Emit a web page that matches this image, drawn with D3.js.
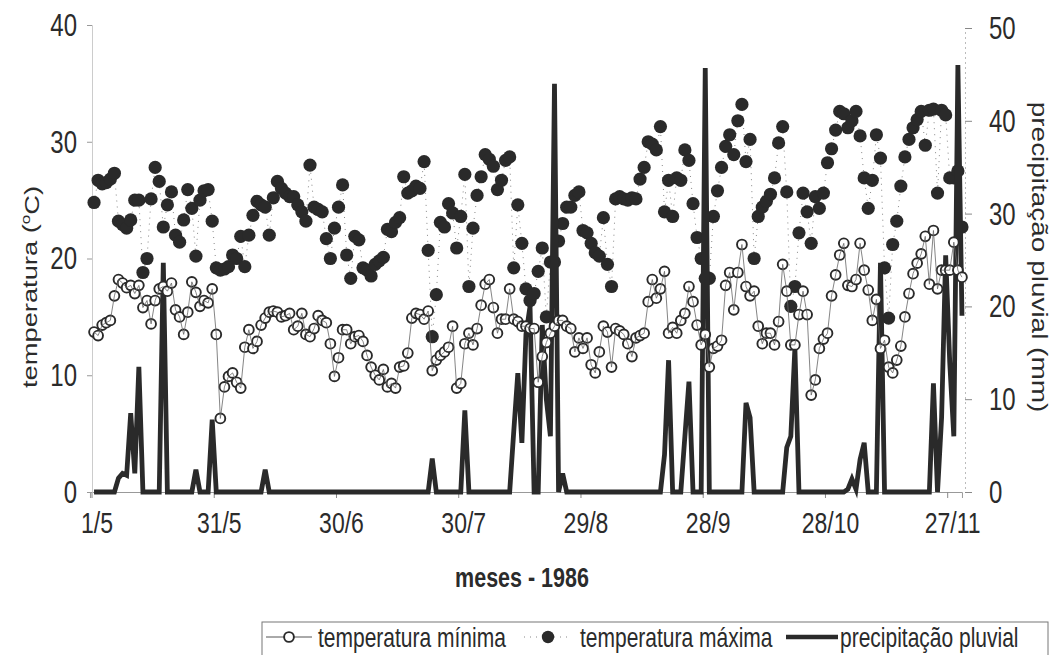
<!DOCTYPE html>
<html>
<head>
<meta charset="utf-8">
<script src="https://cdn.jsdelivr.net/npm/d3@7"></script>
<style>
  html, body { margin: 0; padding: 0; background: #fff; }
  svg text { font-family: "Liberation Sans", Arial, sans-serif; fill: #2b2b2b; }
</style>
</head>
<body>
<svg id="chart" width="1056" height="655"></svg>
<script>
// daily categories 1/5/1986 .. 30/11/1986
const days = d3.timeDay.range(new Date(1986, 4, 1), new Date(1986, 11, 1));
const tickLabels = ["1/5", "31/5", "30/6", "30/7", "29/8", "28/9", "28/10", "27/11"];
const tempTicks = [0, 10, 20, 30, 40];
const rainTicks = [0, 10, 20, 30, 40, 50];

// temperatura minima (C)
const tempMin = [
  13.7, 13.4, 14.3, 14.5, 14.7, 16.8, 18.2, 17.9, 17.5, 17.7,
  17.0, 17.7, 15.8, 16.4, 14.4, 16.4, 17.4, 17.6, 17.2, 17.9,
  15.6, 15.0, 13.5, 15.4, 18.0, 17.1, 15.9, 16.4, 16.2, 17.4,
  13.5, 6.3, 9.0, 9.9, 10.2, 9.4, 8.9, 12.4, 13.9, 12.3,
  12.9, 14.3, 14.9, 15.4, 15.5, 15.4, 15.0, 15.1, 15.3, 13.9,
  14.2, 15.3, 13.5, 13.3, 14.0, 15.1, 14.7, 14.5, 12.7, 9.9,
  11.5, 13.9, 13.9, 12.7, 13.3, 13.4, 12.9, 11.7, 10.7, 10.0,
  9.6, 10.5, 9.0, 9.3, 8.9, 10.7, 10.8, 11.9, 14.9, 15.3,
  15.2, 14.8, 15.5, 10.4, 11.3, 11.7, 12.0, 12.4, 14.2, 8.9,
  9.3, 12.7, 13.6, 12.6, 14.0, 16.0, 17.8, 18.2, 15.8, 13.6,
  14.8, 14.8, 17.4, 14.8, 14.6, 14.2, 14.2, 14.0, 14.0, 9.4,
  11.6, 12.8, 13.6, 14.2, 14.7, 14.7, 14.2, 14.0, 12.0, 13.2,
  12.3, 13.2, 10.9, 10.2, 12.0, 14.2, 13.7, 10.7, 14.0, 13.8,
  13.5, 12.7, 11.6, 13.2, 13.4, 13.6, 16.3, 18.2, 16.6, 17.4,
  18.9, 13.6, 14.1, 13.6, 14.7, 15.3, 17.6, 16.3, 14.3, 12.6,
  13.5, 10.7, 12.3, 12.5, 13.0, 17.7, 18.8, 15.6, 18.8, 21.2,
  17.6, 16.8, 17.2, 14.2, 12.7, 13.6, 13.6, 12.6, 14.6, 19.5,
  17.2, 12.6, 12.6, 15.2, 17.2, 15.2, 8.3, 9.6, 12.3, 13.1,
  13.6, 16.8, 18.6, 20.3, 21.3, 17.7, 17.6, 18.2, 21.3, 19.0,
  17.3, 14.7, 16.5, 12.3, 13.0, 10.7, 10.2, 11.3, 12.5, 15.0,
  17.0, 18.7, 19.6, 20.4, 21.9, 17.8, 22.4, 17.4, 19.0, 19.0,
  19.0, 21.4, 19.0, 18.4
];

// temperatura maxima (C)
const tempMax = [
  24.8, 26.7, 26.4, 26.5, 26.8, 27.3, 23.2, 22.9, 22.6, 23.3,
  25.0, 25.0, 18.8, 20.0, 25.1, 27.8, 26.6, 22.7, 24.6, 25.7,
  22.0, 21.4, 23.3, 25.9, 24.3, 20.2, 25.0, 25.8, 25.9, 23.2,
  19.2, 19.0, 19.1, 19.3, 20.3, 20.0, 21.9, 19.3, 22.0, 23.7,
  24.9, 24.6, 24.4, 22.0, 25.2, 26.6, 26.0, 25.6, 25.3, 25.3,
  24.6, 24.0, 23.2, 28.0, 24.4, 24.2, 24.0, 21.7, 20.0, 22.6,
  24.4, 26.3, 20.3, 18.3, 21.9, 21.6, 19.2, 19.0, 18.5, 19.5,
  19.8, 20.1, 22.5, 22.3, 23.1, 23.5, 27.0, 25.6, 25.8, 26.2,
  26.0, 28.3, 20.7, 13.3, 16.9, 23.1, 22.7, 24.7, 23.9, 20.9,
  23.6, 27.2, 17.6, 22.6, 25.4, 27.0, 28.9, 28.5, 27.9, 25.9,
  26.7, 28.4, 28.7, 19.2, 24.6, 21.3, 17.4, 16.4, 17.0, 18.9,
  20.9, 15.0, 19.7, 19.7, 21.5, 23.0, 24.4, 24.4, 25.4, 25.7,
  22.4, 22.2, 21.3, 20.5, 20.2, 23.5, 19.5, 17.6, 25.1, 25.3,
  25.1, 25.0, 25.2, 25.1, 26.8, 27.8, 30.0, 29.8, 29.3, 31.3,
  24.0, 26.7, 23.6, 26.9, 26.7, 29.3, 28.4, 24.7, 21.8, 20.0,
  18.3, 18.3, 23.6, 25.8, 27.8, 29.6, 30.6, 28.9, 31.8, 33.2,
  28.3, 30.2, 20.0, 23.6, 24.4, 24.9, 25.5, 26.9, 29.9, 31.3,
  25.7, 15.9, 17.6, 22.2, 25.6, 24.0, 21.3, 25.3, 24.3, 25.6,
  28.2, 29.4, 31.0, 32.6, 32.4, 31.2, 31.8, 32.6, 30.5, 26.9,
  24.3, 26.7, 30.6, 28.6, 19.2, 14.9, 21.2, 23.2, 26.2, 28.7,
  30.2, 31.2, 31.9, 32.6, 29.7, 32.7, 32.8, 25.6, 32.7, 32.3,
  26.9, 26.9, 27.5, 22.7
];

// precipitacao pluvial (mm)
const rain = [
  0, 0, 0, 0, 0, 0, 1.5, 2.0, 1.8, 8.5,
  2.0, 13.5, 0, 0, 0, 0, 0, 24.7, 0, 0,
  0, 0, 0, 0, 0, 2.4, 0, 0, 0, 7.8,
  0, 0, 0, 0, 0, 0, 0, 0, 0, 0,
  0, 0, 2.4, 0, 0, 0, 0, 0, 0, 0,
  0, 0, 0, 0, 0, 0, 0, 0, 0, 0,
  0, 0, 0, 0, 0, 0, 0, 0, 0, 0,
  0, 0, 0, 0, 0, 0, 0, 0, 0, 0,
  0, 0, 0, 3.6, 0, 0, 0, 0, 0, 0,
  0, 8.8, 0, 0, 0, 0, 0, 0, 0, 0,
  0, 0, 0, 6.5, 12.8, 5.3, 17.0, 20.0, 0, 0,
  18.0, 10.0, 6.0, 44.0, 0, 2.0, 0, 0, 0, 0,
  0, 0, 0, 0, 0, 0, 0, 0, 0, 0,
  0, 0, 0, 0, 0, 0, 0, 0, 0, 0,
  4.0, 14.2, 0, 0, 0, 6.0, 11.9, 0, 0, 0,
  45.7, 0, 0, 0, 0, 0, 0, 0, 0, 0,
  9.6, 8.0, 0, 0, 0, 0, 0, 0, 0, 0,
  4.8, 6.0, 15.5, 0, 0, 0, 0, 0, 0, 0,
  0, 0, 0, 0, 0, 0.3, 1.4, 0.3, 3.5, 5.3,
  0, 0, 0, 24.7, 0, 0, 0, 0, 0, 0,
  0, 0, 0, 0, 0, 0, 11.7, 0, 8.0, 25.5,
  14.0, 6.0, 46.0, 19.0
];

const SY = 1.3;           // scanned text looks stretched vertically
const ink = "#2a2a2a";
const svg = d3.select("#chart");

const x = d3.scaleBand().domain(d3.range(days.length)).range([92, 964]);
const bw = x.bandwidth();
const cx = i => x(i) + bw / 2;
const yT = d3.scaleLinear().domain([0, 40]).range([492, 25]);
const yP = d3.scaleLinear().domain([0, 50]).range([492, 28]);

const fmt = d3.timeFormat("%-d/%-m");
const tickIdx = tickLabels.map(l => days.findIndex(d => fmt(d) === l));

// helper for stretched text
function label(g, px, py, str, anchor, size, weight) {
  return g.append("g").attr("transform", `translate(${px},${py}) scale(1,${SY})`)
    .append("text")
    .attr("text-anchor", anchor)
    .attr("dy", "0.35em")
    .style("font-size", size + "px")
    .style("font-weight", weight || "normal")
    .text(str);
}

// axes (ticks and lines only)
const gx = svg.append("g")
  .attr("transform", `translate(${-bw / 2},492)`)
  .call(d3.axisBottom(x).tickValues(tickIdx).tickSize(6).tickFormat(""));
gx.select(".domain").attr("stroke", "#999");
gx.selectAll(".tick line").attr("stroke", "#888");

const gl = svg.append("g")
  .attr("transform", "translate(92,0)")
  .call(d3.axisLeft(yT).tickValues(tempTicks).tickSize(5).tickFormat(""));
gl.select(".domain").attr("stroke", "#ccc");
gl.selectAll(".tick line").attr("stroke", "#999");

const gr = svg.append("g")
  .attr("transform", "translate(965,0)")
  .call(d3.axisRight(yP).tickValues(rainTicks).tickSize(7).tickFormat(""));
gr.select(".domain").attr("stroke", "#bbb").attr("stroke-dasharray", "2,3");
gr.selectAll(".tick line").attr("stroke", "#888");

// tick labels
const labels = svg.append("g");
tempTicks.forEach(v => label(labels, 77, yT(v), v, "end", 24));
rainTicks.forEach(v => label(labels, 989, yP(v), v, "start", 24));
tickLabels.forEach((l, k) => label(labels, x(tickIdx[k]) + 5, 523, l, "middle", 23));

// axis titles
const lt = svg.append("g").attr("transform", `translate(30,287) rotate(-90) scale(${SY},1)`)
  .append("text").attr("text-anchor", "middle").attr("dy", "0.35em").style("font-size", "21px");
lt.append("tspan").text("temperatura (");
lt.append("tspan").text("o").style("font-size", "13px").attr("dy", "-0.6em");
lt.append("tspan").text("C)").attr("dy", "0.45em");

svg.append("g").attr("transform", `translate(1040,257) rotate(90) scale(${SY},1)`)
  .append("text").attr("text-anchor", "middle").attr("dy", "0.35em")
  .style("font-size", "21.5px").text("precipitação pluvial (mm)");

label(svg, 522, 577, "meses - 1986", "middle", 21.5, "bold");

// temperatura maxima: dotted link + filled markers
svg.append("path")
  .datum(tempMax)
  .attr("fill", "none").attr("stroke", "#888").attr("stroke-width", 1)
  .attr("stroke-dasharray", "1,5")
  .attr("d", d3.line().x((d, i) => cx(i)).y(d => yT(d)));
svg.append("g").selectAll("circle").data(tempMax).join("circle")
  .attr("cx", (d, i) => cx(i)).attr("cy", d => yT(d)).attr("r", 6.6)
  .attr("fill", ink);

// precipitacao pluvial
svg.append("path")
  .datum(rain)
  .attr("fill", "none").attr("stroke", ink).attr("stroke-width", 4.8)
  .attr("stroke-linejoin", "miter")
  .attr("d", d3.line().x((d, i) => cx(i)).y(d => yP(d)));

// temperatura minima: open markers + thin line
svg.append("g").selectAll("circle").data(tempMin).join("circle")
  .attr("cx", (d, i) => cx(i)).attr("cy", d => yT(d)).attr("r", 4.9)
  .attr("fill", "#fff").attr("stroke", ink).attr("stroke-width", 1.9);
svg.append("path")
  .datum(tempMin)
  .attr("fill", "none").attr("stroke", "#666").attr("stroke-width", 0.8)
  .attr("d", d3.line().x((d, i) => cx(i)).y(d => yT(d)));

// legend
const lg = svg.append("g");
lg.append("rect").attr("x", 262).attr("y", 622).attr("width", 786).attr("height", 50)
  .attr("fill", "none").attr("stroke", "#777").attr("stroke-width", 1);
const ly = 637;
lg.append("line").attr("x1", 266).attr("x2", 312).attr("y1", ly).attr("y2", ly)
  .attr("stroke", "#555").attr("stroke-width", 1);
lg.append("circle").attr("cx", 289).attr("cy", ly).attr("r", 4.9)
  .attr("fill", "#fff").attr("stroke", ink).attr("stroke-width", 1.9);
label(lg, 318, ly, "temperatura mínima", "start", 21);
lg.append("line").attr("x1", 524).attr("x2", 572).attr("y1", ly).attr("y2", ly)
  .attr("stroke", "#888").attr("stroke-dasharray", "1,5");
lg.append("circle").attr("cx", 548).attr("cy", ly).attr("r", 6.2).attr("fill", ink);
label(lg, 580, ly, "temperatura máxima", "start", 21);
lg.append("line").attr("x1", 786).attr("x2", 838).attr("y1", ly).attr("y2", ly)
  .attr("stroke", ink).attr("stroke-width", 4.5);
label(lg, 840, ly, "precipitação pluvial", "start", 21);
</script>
</body>
</html>
